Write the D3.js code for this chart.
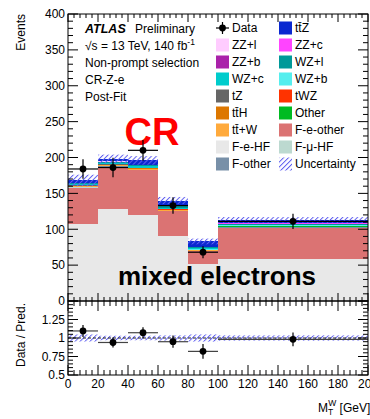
<!DOCTYPE html>
<html>
<head>
<meta charset="utf-8">
<script src="https://cdn.jsdelivr.net/npm/d3@7"></script>
<style>
  body { margin: 0; background: #fff; }
  svg { display: block; font-family: "Liberation Sans", Arial, Helvetica, sans-serif; }
</style>
</head>
<body>
<div id="chart"></div>
<script>
// bins in MT(W) [GeV]
const binEdges = [0, 20, 40, 60, 80, 100, 200];
const dataCounts = [184, 186, 210, 133, 68, 111];

// stack contributions per bin (bottom to top)
const fEHF    = [107, 128, 120, 90, 52, 58];
const fEOther = [51, 59, 62, 35, 17, 44];
const fMuHF   = [0.2, 0.2, 0.2, 0.2, 0.2, 0.2];
const fOther  = [0.3, 0.3, 0.3, 0.3, 0.3, 0.3];
const ttW     = [1.2, 1.4, 1.5, 1.3, 1.0, 1.2];
const other   = [0.3, 0.3, 0.3, 0.3, 0.3, 0.3];
const ttH     = [0.4, 0.5, 0.5, 0.4, 0.3, 0.4];
const tWZ     = [0.3, 0.3, 0.4, 0.3, 0.2, 0.3];
const tZ      = [0.3, 0.3, 0.3, 0.3, 0.2, 0.3];
const wzB     = [0.4, 0.5, 0.5, 0.5, 0.4, 0.4];
const wzC     = [1.2, 1.3, 1.5, 1.6, 1.4, 1.1];
const wzL     = [1.4, 1.6, 1.8, 1.9, 1.6, 1.3];
const zzB     = [0.2, 0.2, 0.2, 0.2, 0.2, 0.2];
const zzC     = [0.3, 0.3, 0.3, 0.3, 0.3, 0.3];
const zzL     = [0.3, 0.3, 0.3, 0.3, 0.3, 0.3];
const ttZ     = [3.2, 3.5, 5.9, 7.1, 7.3, 4.4];
const uncert  = [8, 6, 6, 5, 4, 4];

const yTicks = [0, 50, 100, 150, 200, 250, 300, 350, 400];
const xTicks = [0, 20, 40, 60, 80, 100, 120, 140, 160, 180, 200];
const ratioTicks = [0.5, 0.75, 1, 1.25];

const layers = [
  {name: 'F-e-HF', v: fEHF, c: '#e8e8e8'},
  {name: 'F-e-other', v: fEOther, c: '#db7373'},
  {name: 'F-\u03bc-HF', v: fMuHF, c: '#bcd9d0'},
  {name: 'F-other', v: fOther, c: '#7890a8'},
  {name: 'tt\u0304+W', v: ttW, c: '#ffaa3c'},
  {name: 'Other', v: other, c: '#00bb22'},
  {name: 'tt\u0304H', v: ttH, c: '#dd7700'},
  {name: 'tWZ', v: tWZ, c: '#ff3300'},
  {name: 'tZ', v: tZ, c: '#666666'},
  {name: 'WZ+b', v: wzB, c: '#55eeee'},
  {name: 'WZ+c', v: wzC, c: '#00cccc'},
  {name: 'WZ+l', v: wzL, c: '#009999'},
  {name: 'ZZ+b', v: zzB, c: '#aa22aa'},
  {name: 'ZZ+c', v: zzC, c: '#ff44ff'},
  {name: 'ZZ+l', v: zzL, c: '#ffccff'},
  {name: 'tt\u0304Z', v: ttZ, c: '#0a28d0'}
];
const color = {};
layers.forEach(l => color[l.name] = l.c);

// legend, row by row, two columns
const legendItems = ['Data', 'tt\u0304Z', 'ZZ+l', 'ZZ+c', 'ZZ+b', 'WZ+l', 'WZ+c', 'WZ+b',
  'tZ', 'tWZ', 'tt\u0304H', 'Other', 'tt\u0304+W', 'F-e-other', 'F-e-HF', 'F-\u03bc-HF',
  'F-other', 'Uncertainty'];

const W = 370, H = 419;
const pL = 68, pR = 368, pT = 14, pM = 301, pB = 375;

const svg = d3.select('#chart').append('svg').attr('width', W).attr('height', H);

const defs = svg.append('defs');
// diagonal hatch for the uncertainty
const pat = defs.append('pattern').attr('id', 'hatch')
  .attr('patternUnits', 'userSpaceOnUse').attr('width', 3.5).attr('height', 3.5)
  .attr('patternTransform', 'rotate(45)');
pat.append('rect').attr('x', 0).attr('y', 0).attr('width', 1).attr('height', 3.5)
  .style('fill', '#6060f0');
defs.append('clipPath').attr('id', 'clipMain').append('rect')
  .attr('x', pL).attr('y', pT).attr('width', pR - pL).attr('height', pM - pT);
defs.append('clipPath').attr('id', 'clipRatio').append('rect')
  .attr('x', pL).attr('y', pM).attr('width', pR - pL).attr('height', pB - pM);

const x = d3.scaleLinear().domain([0, 200]).range([pL, pR]);
const y = d3.scaleLinear().domain([0, 400]).range([pM, pT]);
const yr = d3.scaleLinear().domain([0.5, 1.5]).range([pB, pM]);

const bins = d3.range(dataCounts.length).map(i => ({
  i: i, lo: binEdges[i], hi: binEdges[i + 1], mid: (binEdges[i] + binEdges[i + 1]) / 2
}));

// stacked histogram
const stack = d3.stack().keys(layers.map(l => l.name)).value((d, k) => d[k]);
const table = bins.map(b => {
  const row = {};
  layers.forEach(l => row[l.name] = l.v[b.i]);
  return row;
});
const series = stack(table);
const total = bins.map(b => d3.sum(layers, l => l.v[b.i]));

const gMain = svg.append('g').attr('clip-path', 'url(#clipMain)');
series.forEach(s => {
  gMain.append('g').selectAll('rect').data(s).enter().append('rect')
    .attr('x', (d, i) => x(bins[i].lo))
    .attr('width', (d, i) => x(bins[i].hi) - x(bins[i].lo))
    .attr('y', d => y(d[1]))
    .attr('height', d => Math.max(0, y(d[0]) - y(d[1])))
    .attr('fill', color[s.key])
    .attr('shape-rendering', 'crispEdges');
});
// uncertainty band
gMain.selectAll('.unc').data(bins).enter().append('rect')
  .attr('x', b => x(b.lo)).attr('width', b => x(b.hi) - x(b.lo))
  .attr('y', b => y(total[b.i] + uncert[b.i]))
  .attr('height', b => y(total[b.i] - uncert[b.i]) - y(total[b.i] + uncert[b.i]))
  .attr('fill', 'url(#hatch)');

// text labels
svg.append('text').attr('x', 152).attr('y', 145).attr('text-anchor', 'middle')
  .attr('font-size', 38).attr('font-weight', 'bold').attr('fill', '#ff0000').text('CR');
svg.append('text').attr('x', 217).attr('y', 285).attr('text-anchor', 'middle')
  .attr('font-size', 26).attr('font-weight', 'bold').attr('fill', '#000').text('mixed electrons');

// data points main
const gData = svg.append('g');
bins.forEach(b => {
  const n = dataCounts[b.i], e = Math.sqrt(n);
  gData.append('line').attr('x1', x(b.lo)).attr('x2', x(b.hi)).attr('y1', y(n)).attr('y2', y(n))
    .attr('stroke', '#000').attr('stroke-width', 1.2);
  gData.append('line').attr('x1', x(b.mid)).attr('x2', x(b.mid)).attr('y1', y(n - e)).attr('y2', y(n + e))
    .attr('stroke', '#000').attr('stroke-width', 1.2);
  gData.append('circle').attr('cx', x(b.mid)).attr('cy', y(n)).attr('r', 3.4).attr('fill', '#000');
});

// ratio panel
const gRatio = svg.append('g').attr('clip-path', 'url(#clipRatio)');
gRatio.selectAll('.runc').data(bins).enter().append('rect')
  .attr('x', b => x(b.lo)).attr('width', b => x(b.hi) - x(b.lo))
  .attr('y', b => yr(1 + uncert[b.i] / total[b.i]))
  .attr('height', b => yr(1 - uncert[b.i] / total[b.i]) - yr(1 + uncert[b.i] / total[b.i]))
  .attr('fill', 'url(#hatch)');
gRatio.append('line').attr('x1', pL).attr('x2', pR).attr('y1', yr(1)).attr('y2', yr(1))
  .attr('stroke', '#222').attr('stroke-width', 1).attr('stroke-dasharray', '3,2');
bins.forEach(b => {
  const r = dataCounts[b.i] / total[b.i], e = Math.sqrt(dataCounts[b.i]) / total[b.i];
  gRatio.append('line').attr('x1', x(b.lo)).attr('x2', x(b.hi)).attr('y1', yr(r)).attr('y2', yr(r))
    .attr('stroke', '#444').attr('stroke-width', 1.2);
  gRatio.append('line').attr('x1', x(b.mid)).attr('x2', x(b.mid)).attr('y1', yr(r - e)).attr('y2', yr(r + e))
    .attr('stroke', '#000').attr('stroke-width', 1.2);
  gRatio.append('circle').attr('cx', x(b.mid)).attr('cy', yr(r)).attr('r', 3.4).attr('fill', '#000');
});

// frames and ticks
const axes = svg.append('g').attr('stroke', '#000').attr('stroke-width', 1).attr('fill', 'none');
axes.append('rect').attr('x', pL).attr('y', pT).attr('width', pR - pL).attr('height', pM - pT);
axes.append('rect').attr('x', pL).attr('y', pM).attr('width', pR - pL).attr('height', pB - pM);

function tick(x1, y1, x2, y2) {
  axes.append('line').attr('x1', x1).attr('y1', y1).attr('x2', x2).attr('y2', y2);
}
// main y ticks
d3.range(0, 401, 10).forEach(v => {
  const len = v % 50 === 0 ? 10 : 5;
  tick(pL, y(v), pL + len, y(v));
  tick(pR, y(v), pR - len, y(v));
});
// x ticks on both panels
d3.range(0, 201, 4).forEach(v => {
  const major = v % 20 === 0;
  tick(x(v), pM, x(v), pM - (major ? 8 : 4));
  tick(x(v), pT, x(v), pT + (major ? 8 : 4));
  tick(x(v), pB, x(v), pB - (major ? 10 : 5));
  tick(x(v), pM, x(v), pM + (major ? 10 : 5));
});
// ratio y ticks
d3.range(0.5, 1.501, 0.05).forEach(v => {
  const major = Math.abs(v * 4 - Math.round(v * 4)) < 1e-6;
  tick(pL, yr(v), pL + (major ? 10 : 5), yr(v));
  tick(pR, yr(v), pR - (major ? 10 : 5), yr(v));
});

const lab = svg.append('g').attr('font-size', 12).attr('fill', '#000');
yTicks.forEach(v => {
  lab.append('text').attr('x', 65).attr('y', y(v) + 4.3).attr('text-anchor', 'end').text(v);
});
ratioTicks.forEach(v => {
  lab.append('text').attr('x', 65).attr('y', yr(v) + 4.3).attr('text-anchor', 'end').text(v);
});
xTicks.forEach(v => {
  lab.append('text').attr('x', x(v)).attr('y', 388).attr('text-anchor', 'middle').text(v);
});
lab.append('text').attr('transform', 'translate(25,14) rotate(-90)').attr('text-anchor', 'end').text('Events');
lab.append('text').attr('transform', 'translate(25,303) rotate(-90)').attr('text-anchor', 'end').text('Data / Pred.');
const xt = lab.append('text').attr('x', 318).attr('y', 412);
xt.append('tspan').text('M');
xt.append('tspan').attr('font-size', 8.5).attr('dy', 3).text('T');
xt.append('tspan').attr('font-size', 8.5).attr('dx', -5).attr('dy', -9).text('W');
xt.append('tspan').attr('dy', 6).text(' [GeV]');

// ATLAS label block
const info = svg.append('g').attr('font-size', 12).attr('fill', '#000');
const at = info.append('text').attr('x', 85).attr('y', 33);
at.append('tspan').attr('font-weight', 'bold').attr('font-style', 'italic').attr('font-size', 12.5).text('ATLAS');
at.append('tspan').attr('x', 135).text('Preliminary');
const rs = info.append('text').attr('x', 85).attr('y', 50);
rs.append('tspan').text('\u221as = 13 TeV, 140 fb');
rs.append('tspan').attr('font-size', 8.5).attr('dy', -5).text('-1');
info.append('text').attr('x', 85).attr('y', 67).text('Non-prompt selection');
info.append('text').attr('x', 85).attr('y', 84).text('CR-Z-e');
info.append('text').attr('x', 85).attr('y', 101).text('Post-Fit');

// legend
const leg = svg.append('g').attr('font-size', 12);
legendItems.forEach((name, k) => {
  const col = k % 2, row = Math.floor(k / 2);
  const bx = col === 0 ? 216 : 279, cy = 28 + row * 17;
  const g = leg.append('g');
  if (name === 'Data') {
    g.append('line').attr('x1', bx).attr('x2', bx + 13).attr('y1', cy).attr('y2', cy).attr('stroke', '#000').attr('stroke-width', 1.2);
    g.append('line').attr('x1', bx + 6.5).attr('x2', bx + 6.5).attr('y1', cy - 6).attr('y2', cy + 6).attr('stroke', '#000').attr('stroke-width', 1.2);
    g.append('circle').attr('cx', bx + 6.5).attr('cy', cy).attr('r', 3.4).attr('fill', '#000');
  } else if (name === 'Uncertainty') {
    g.append('rect').attr('x', bx).attr('y', cy - 6.5).attr('width', 13).attr('height', 13).attr('fill', 'url(#hatch)');
  } else {
    g.append('rect').attr('x', bx).attr('y', cy - 6.5).attr('width', 13).attr('height', 13).attr('fill', color[name]);
  }
  g.append('text').attr('x', bx + 16).attr('y', cy + 4.3).text(name);
});
</script>
</body>
</html>
